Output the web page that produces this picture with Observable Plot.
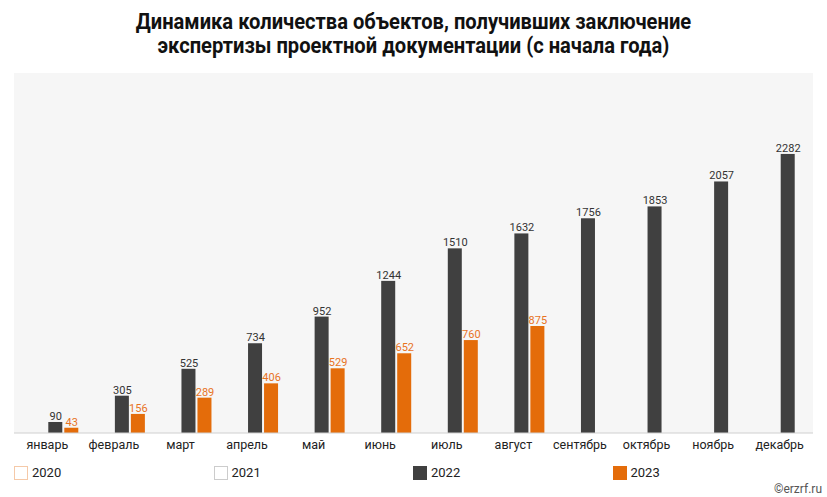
<!DOCTYPE html>
<html><head><meta charset="utf-8">
<script src="https://cdn.jsdelivr.net/npm/d3@7"></script>
<script src="https://cdn.jsdelivr.net/npm/@observablehq/plot@0.6"></script>
<style>
body{margin:0;background:#fff;font-family:Roboto,"Noto Sans",sans-serif;}
#wrap{width:827px;height:497px;position:relative;overflow:hidden;}
#title{height:73px;box-sizing:border-box;padding-top:10px;text-align:center;font-weight:bold;font-size:22px;line-height:24px;color:#111;}
#title span{display:inline-block;transform:scaleX(0.915);transform-origin:center;}
#legend{position:absolute;left:14px;top:465px;width:800px;height:18px;font-size:13px;color:#222;}
.li{position:absolute;top:0;display:flex;align-items:center;}
.sw{width:14px;height:14px;margin-right:4px;box-sizing:border-box;}
#credit{position:absolute;right:5px;top:482px;font-size:12px;color:#555;}
</style></head>
<body><div id="wrap">
<div id="title"><span>Динамика количества объектов, получивших заключение<br>экспертизы проектной документации (с начала года)</span></div>
<div id="chart"></div>
<div id="legend"></div>
<div id="credit">©erzrf.ru</div>
</div>
<script>
const months = ["январь","февраль","март","апрель","май","июнь","июль","август","сентябрь","октябрь","ноябрь","декабрь"];
const years = ["2020","2021","2022","2023"];
const values2022 = [90,305,525,734,952,1244,1510,1632,1756,1853,2057,2282];
const values2023 = [43,156,289,406,529,652,760,875];
const barColors = {"2020":"#ffffff","2021":"#ffffff","2022":"#404040","2023":"#e46c0a"};
const legendBorders = {"2020":"#f5c9a8","2021":"#cccccc","2022":"#404040","2023":"#e46c0a"};
const labelColors = {"2022":"#333333","2023":"#e8731f"};

const data = [];
values2022.forEach((v,i)=>data.push({month:months[i],year:"2022",value:v}));
values2023.forEach((v,i)=>data.push({month:months[i],year:"2023",value:v}));

const W = 827, H = 385, mL = 14, mR = 14, mT = 0, mB = 25;
const plot = Plot.plot({
  width: W, height: H,
  marginLeft: mL, marginRight: mR, marginTop: mT, marginBottom: mB,
  style: {fontFamily: "Roboto, sans-serif", background: "transparent"},
  fx: {domain: months, padding: 0, round: false, label: null, axis: null},
  x: {domain: years, paddingInner: 0.125, paddingOuter: 0.143, round: false, axis: null},
  y: {domain: [0, 2944], axis: null},
  marks: [
    Plot.barY(data, {fx: "month", x: "year", y: "value", fill: d => barColors[d.year]}),
    Plot.text(data, {fx: "month", x: "year", y: "value", text: d => String(d.value), dy: -6, fontSize: 11, fill: d => labelColors[d.year]}),
  ]
});
document.getElementById("chart").appendChild(plot);

// background panel, baseline and month labels via scales
const svg = d3.select(plot);
const fx = plot.scale("fx"), y = plot.scale("y");
const y0 = y.apply(0), yTop = y.apply(y.domain[1]);
svg.insert("rect", ":first-child")
  .attr("x", mL).attr("y", yTop).attr("width", W - mL - mR).attr("height", y0 - yTop)
  .attr("fill", "#f6f6f6");
svg.append("line").attr("x1", mL).attr("x2", W - mR).attr("y1", y0).attr("y2", y0)
  .attr("stroke", "#d0d0d0").attr("stroke-width", 1.2);
svg.append("g").selectAll("text").data(months).join("text")
  .attr("x", m => fx.apply(m) + fx.bandwidth / 2)
  .attr("y", y0 + 16)
  .attr("text-anchor", "middle")
  .attr("font-size", 12.5).attr("fill", "#222")
  .attr("font-family", "Roboto, sans-serif")
  .text(m => m);

// legend
const leg = d3.select("#legend");
years.forEach((yr, i) => {
  const item = leg.append("div").attr("class", "li").style("left", (i * 199.5) + "px");
  item.append("div").attr("class", "sw")
    .style("background", barColors[yr])
    .style("border", "1.5px solid " + legendBorders[yr]);
  item.append("span").text(yr);
});
</script>
</body></html>
